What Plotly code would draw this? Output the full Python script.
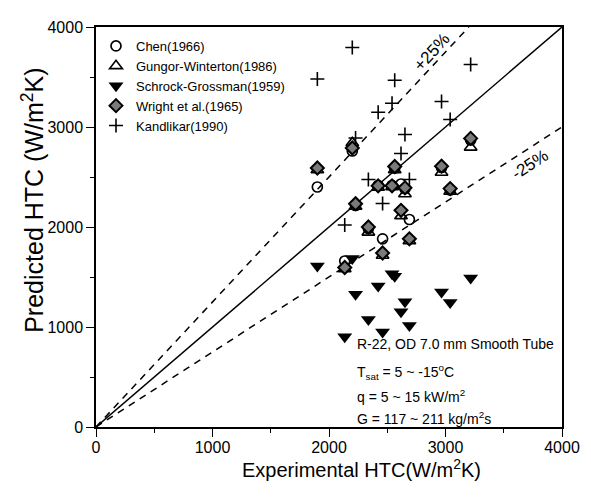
import plotly.graph_objects as go

# ---- data ----
exp_htc = [1900, 2135, 2200, 2228, 2338, 2422, 2460, 2541, 2564, 2618, 2652, 2690, 2966, 3040, 3216]
chen = [2400, 1660, 2760, 2215, 1985, 2415, 1882, 2415, 2590, 2430, 2385, 2075, 2595, 2370, 2870]
gungor = [2570, 1580, 2840, 2205, 1947, 2395, 1715, 2400, 2570, 2111, 2330, 1860, 2545, 2355, 2797]
schrock = [1611, 902, 1686, 1327, 1075, 1409, 951, 1533, 1507, 1153, 1252, 1016, 1350, 1245, 1490]
wright = [2590, 1595, 2790, 2233, 2000, 2412, 1740, 2412, 2605, 2167, 2392, 1882, 2608, 2384, 2886]
kandlikar = [3480, 2020, 3795, 2890, 2475, 3148, 2235, 3238, 3467, 2735, 2925, 2475, 3255, 3075, 3625]

axis_max = 4000
tick_vals = [0, 1000, 2000, 3000, 4000]
band = 0.25

FONT = "Liberation Sans, Arial, sans-serif"

fig = go.Figure()

# reference lines y = x and +/-25 %
ref_x = [0, axis_max]
fig.add_trace(go.Scatter(x=ref_x, y=ref_x, mode="lines",
                         line=dict(color="black", width=1.5), showlegend=False, hoverinfo="skip"))
fig.add_trace(go.Scatter(x=[0, axis_max / (1 + band)], y=[0, axis_max], mode="lines",
                         line=dict(color="black", width=1.5, dash="7px,6px"), showlegend=False, hoverinfo="skip"))
fig.add_trace(go.Scatter(x=[0, axis_max], y=[0, axis_max * (1 - band)], mode="lines",
                         line=dict(color="black", width=1.5, dash="7px,6px"), showlegend=False, hoverinfo="skip"))

fig.add_trace(go.Scatter(x=exp_htc, y=chen, mode="markers", name="Chen(1966)",
                         marker=dict(symbol="circle-open", size=10, color="black", line=dict(width=1.7))))
fig.add_trace(go.Scatter(x=exp_htc, y=gungor, mode="markers", name="Gungor-Winterton(1986)",
                         marker=dict(symbol="triangle-up-open", size=11, color="black", line=dict(width=1.7))))
fig.add_trace(go.Scatter(x=exp_htc, y=schrock, mode="markers", name="Schrock-Grossman(1959)",
                         marker=dict(symbol="triangle-down", size=13, color="black", line=dict(width=0))))
fig.add_trace(go.Scatter(x=exp_htc, y=wright, mode="markers", name="Wright et al.(1965)",
                         marker=dict(symbol="diamond", size=10, color="#7a7a7a", line=dict(width=2, color="black"))))
fig.add_trace(go.Scatter(x=exp_htc, y=kandlikar, mode="markers", name="Kandlikar(1990)",
                         marker=dict(symbol="cross-thin", size=10, color="black", line=dict(width=1.6, color="black"))))

axis_common = dict(range=[0, axis_max], tickvals=tick_vals, ticks="outside", ticklen=8, tickwidth=1.3,
                   tickcolor="black", showline=True, linecolor="black", linewidth=1.5, mirror=True,
                   showgrid=False, zeroline=False, tickfont=dict(family=FONT, size=16, color="black"),
                   minor=dict(dtick=500, ticks="outside", ticklen=4, tickcolor="black", tickwidth=1.2, showgrid=False))

# the page body adds an 8px offset; plot area spans page px x 96..564, y 19..427
fig.update_layout(
    width=583, height=490,
    margin=dict(l=88, r=27, t=11, b=71),
    paper_bgcolor="white", plot_bgcolor="white",
    font=dict(family=FONT, color="black"),
    xaxis=dict(**axis_common, ticklabelstandoff=-3),
    yaxis=dict(**axis_common),
    legend=dict(x=0.0, y=0.99, xanchor="left", yanchor="top", bgcolor="rgba(0,0,0,0)",
                font=dict(family=FONT, size=13, color="black"), tracegroupgap=0, itemwidth=30),
    showlegend=True,
)

def px_to_paper_x(px):
    return (px - 96) / 468

def px_to_paper_y(py):
    return (427 - py) / 408

annos = [
    dict(text="Experimental HTC(W/m<sup>2</sup>K)", x=px_to_paper_x(363), y=px_to_paper_y(469),
         font=dict(size=20), textangle=0),
    dict(text="Predicted HTC (W/m<sup>2</sup>K)", x=px_to_paper_x(32), y=px_to_paper_y(196),
         font=dict(size=25), textangle=-90),
    dict(text="+25%", x=px_to_paper_x(433), y=px_to_paper_y(45), font=dict(size=17), textangle=-47.5),
    dict(text="-25%", x=px_to_paper_x(532), y=px_to_paper_y(159), font=dict(size=17), textangle=-33),
]
for a in annos:
    a.update(xref="paper", yref="paper", showarrow=False, xanchor="center", yanchor="middle")
    a["font"].update(family=FONT, color="black")
    fig.add_annotation(**a)

cond_lines = ["R-22, OD 7.0 mm Smooth Tube",
              "T<sub>sat</sub> = 5 ~ -15<sup>o</sup>C",
              "q = 5 ~ 15 kW/m<sup>2</sup>",
              "G = 117 ~ 211 kg/m<sup>2</sup>s"]
cond_y = [342, 371, 395, 418]
for t, yy in zip(cond_lines, cond_y):
    fig.add_annotation(text=t, xref="paper", yref="paper", x=px_to_paper_x(356), y=px_to_paper_y(yy),
                       xanchor="left", yanchor="middle", showarrow=False,
                       font=dict(family=FONT, size=14, color="black"))

fig.write_html("out.html")
